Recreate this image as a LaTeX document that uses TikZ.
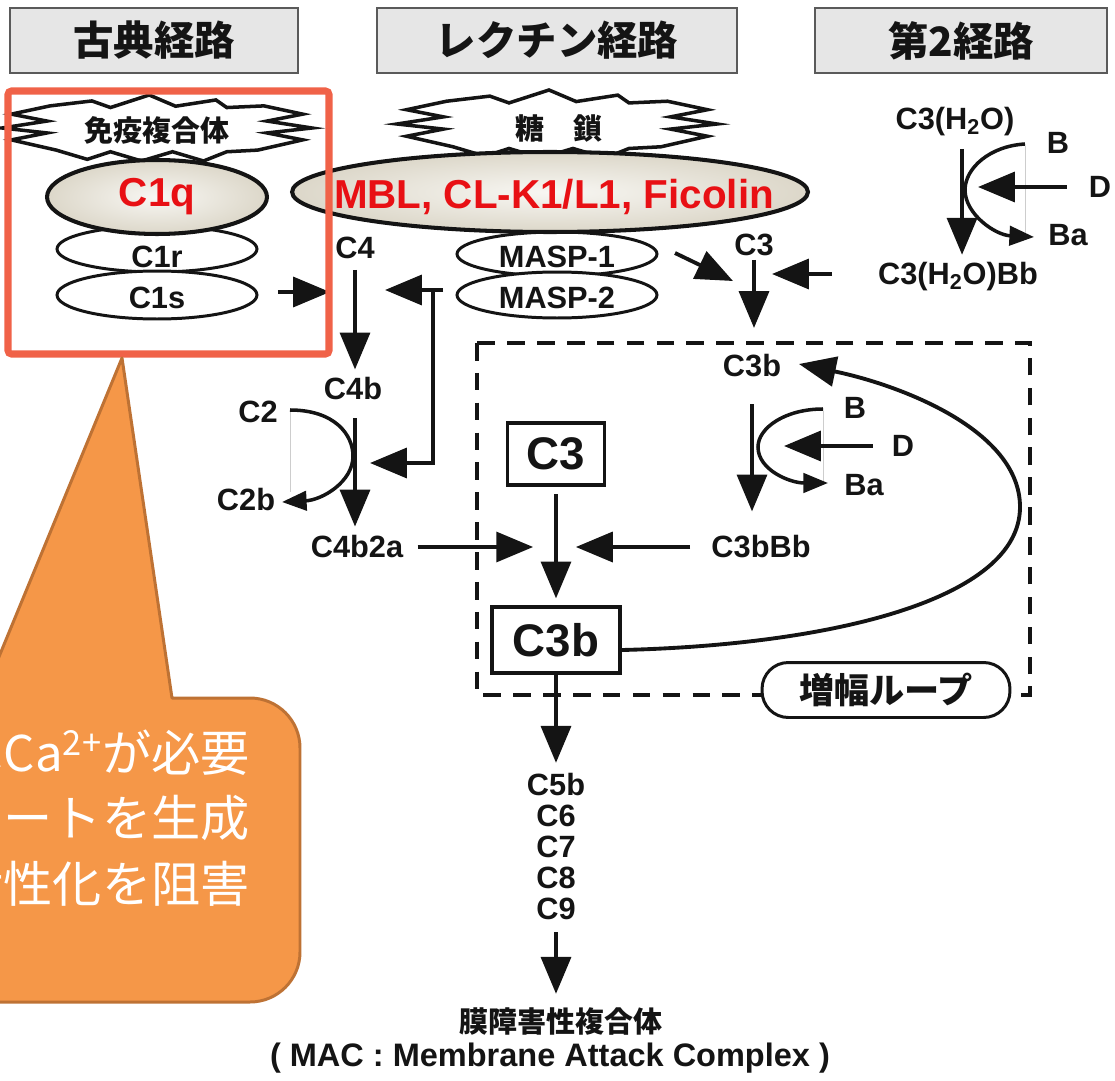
\documentclass[tikz,border=0pt]{standalone}
\usepackage{fontspec}
\setmainfont{Liberation Sans}
\newfontfamily\jp{Noto Sans CJK JP}
\usetikzlibrary{arrows.meta,calc,shapes.geometric,positioning}
\definecolor{ink}{RGB}{20,20,20}
\definecolor{hdr}{RGB}{230,230,230}
\definecolor{hdrline}{RGB}{90,90,90}
\definecolor{hot}{RGB}{232,16,20}
\definecolor{frame}{RGB}{240,98,72}
\definecolor{note}{RGB}{245,151,72}
\definecolor{noteline}{RGB}{190,114,52}
\definecolor{beigein}{RGB}{248,247,243}
\definecolor{beigeout}{RGB}{220,215,201}
\definecolor{ghost}{RGB}{205,205,205}
% Zackenwolke um einen Mittelpunkt, halbe Breite, halbe Hoehe
\newcommand{\spiky}[3]{%
  \begin{scope}[shift={#1}, xscale=#2, yscale=#3]
    \draw[burst] (-0.69,-0.67) -- (-0.94,-0.42) -- (-0.71,-0.21) -- (-1,0) -- (-0.71,0.15)
      -- (-0.94,0.36) -- (-0.65,0.67) -- (-0.45,0.95) -- (-0.3,0.72) -- (-0.1,1) -- (0.1,0.72)
      -- (0.3,1) -- (0.45,0.72) -- (0.65,0.67) -- (0.94,0.36) -- (0.71,0.15) -- (1,0)
      -- (0.71,-0.21) -- (0.94,-0.42) -- (0.69,-0.67) -- (0.45,-0.62) -- (0.38,-0.85)
      -- (0.12,-0.66) -- (-0.05,-1) -- (-0.3,-0.62) -- (-0.42,-0.82) -- cycle;
  \end{scope}}
\tikzset{
  every picture/.style={ink, line join=miter, >={Triangle[length=21pt,width=17pt]}},
  % Beschriftungen
  lbl/.style={inner sep=0pt, font=\fontsize{17.5}{18}\selectfont\bfseries},
  jplbl/.style={inner sep=0pt, font=\jp\fontsize{16.5}{18}\selectfont\bfseries},
  hdrbox/.style={draw=hdrline, fill=hdr, line width=1.2pt, minimum height=1.3cm,
    font=\jp\fontsize{23}{24}\selectfont\bfseries},
  % Formen
  disk/.style={ellipse, draw, fill=white, line width=1.7pt, inner sep=0pt},
  bigdisk/.style={ellipse, draw, line width=2.3pt, inner sep=0pt, shade,
    inner color=beigein, outer color=beigeout},
  burst/.style={draw, fill=white, line width=2pt},
  cbox/.style={draw, fill=white, line width=1.8pt, inner sep=0pt,
    font=\fontsize{26}{28}\selectfont\bfseries},
  pill/.style={draw, fill=white, line width=1.7pt, rounded corners=15pt,
    minimum width=4.96cm, minimum height=1.1cm, font=\jp\fontsize{20}{22}\selectfont\bfseries},
  loopframe/.style={line width=1.8pt, dash pattern=on 10pt off 7pt},
  % Pfeile
  arr/.style={->, line width=2.2pt},
  sarr/.style={line width=2pt, -{Triangle[length=14pt,width=11pt]}},
  ghostline/.style={ghost, line width=0.4pt},
  % Sprechblase
  notebox/.style={fill=note, draw=noteline, line width=1.7pt, line join=round},
  notetxt/.style={white, inner sep=0pt, anchor=base east, font=\jp\fontsize{28}{30}\selectfont},
}

\begin{document}
\begin{tikzpicture}[x=0.02cm, y=-0.02cm]
  \useasboundingbox (0,0) rectangle (1115,1081);
  \clip (0,0) rectangle (1115,1081);
  % Kopfzeilen
  \node[hdrbox, minimum width=5.76cm] (hclass) at (154,40.5) {古典経路};
  \node[hdrbox, minimum width=7.2cm] (hlec) at (557,40.5) {レクチン経路};
  \node[hdrbox, minimum width=5.84cm] (halt) at (961,40.5) {第2経路};
  % Ausloeser
  \spiky{(157,128)}{155}{33}
  \spiky{(557,124)}{160}{34}
  \node[jplbl] (immune) at (157,130) {免疫複合体};
  \node[jplbl] (sugar) at (559,128) {糖　鎖};
  % Erkennungsmolekuele
  \node[disk, minimum width=4cm, minimum height=0.92cm] (c1r) at (157,249) {};
  \node[disk, minimum width=4cm, minimum height=0.96cm] (c1s) at (157,295) {};
  \node[bigdisk, minimum width=4.4cm, minimum height=1.48cm, text=hot,
    font=\fontsize{23}{24}\selectfont\bfseries] (c1q) at (157,197) {C1q};
  \node[lbl] (c1rtxt) at (157,257) {C1r};
  \node[lbl] (c1stxt) at (157,298) {C1s};
  \node[disk, minimum width=4cm, minimum height=0.88cm] (masp1) at (557,254) {};
  \node[disk, minimum width=4cm, minimum height=0.92cm] (masp2) at (557,295) {};
  \node[bigdisk, minimum width=10.32cm, minimum height=1.6cm] (mbl) at (550,192) {};
  \node[inner sep=0pt, text=hot, font=\fontsize{23}{24}\selectfont\bfseries] (mbltxt) at (554,197) {MBL, CL-K1/L1, Ficolin};
  \node[lbl] (masp1txt) at (557,257) {MASP-1};
  \node[lbl] (masp2txt) at (557,298) {MASP-2};
  % klassischer / Lektin-Weg
  \node[lbl] (c4) at (355,248) {C4};
  \node[lbl] (c4b) at (353,389) {C4b};
  \node[lbl] (c2) at (258,412) {C2};
  \node[lbl] (c2b) at (246,500) {C2b};
  \node[lbl] (c4b2a) at (357,547) {C4b2a};
  \coordinate (c1out) at (330,292);
  \coordinate (tj) at (433,290);
  \coordinate (tjr) at (443,290);
  \coordinate (c4in) at (385,290);
  \coordinate (tjb) at (433,463);
  \coordinate (c2in) at (370,463);
  \draw[arr, shorten <=11pt] (c1s.east |- c1out) -- (c1out);
  \draw[arr] (tjr) -- (c4in);
  \draw[arr] (tj) -- (tjb) -- (c2in);
  \draw[arr, shorten <=6pt, shorten >=4.5pt] (c4.south) -- (c4.south |- c4b.north);
  \draw[arr, shorten <=10pt, shorten >=5pt] (c4.south |- c4b.south) -- (c4.south |- c4b2a.north);
  \coordinate (c2a) at (290,410);
  \coordinate (c2t) at (282,502);
  \draw[ghostline] (290,412) -- (290,492);
  \draw[sarr] (c2a) .. controls (335,410) and (353,435) .. (353,456)
    .. controls (353,482) and (322,500) .. (c2t);
  % Lektin -> C3
  \node[lbl] (c3in) at (754,245) {C3};
  \node[lbl] (c3bin) at (752,366) {C3b};
  \coordinate (dg1) at (675,253);
  \coordinate (dg2) at (733,281);
  \coordinate (alt3) at (832,274);
  \coordinate (alt3tip) at (772,274);
  \draw[arr] (dg1) -- (dg2);
  \draw[arr] (alt3) -- (alt3tip);
  \draw[arr, shorten <=2pt, shorten >=15pt] (c3in.south) -- (c3in.south |- c3bin.north);
  % alternativer Weg
  \node[lbl] (wat) at (955,122) {C3(H\textsubscript{2}O)};
  \node[lbl] (wb) at (1058,143) {B};
  \node[lbl] (wd) at (1100,187) {D};
  \node[lbl] (wba) at (1068,235) {Ba};
  \node[lbl] (watbb) at (958,277) {C3(H\textsubscript{2}O)Bb};
  \coordinate (wbs) at (1025,144);
  \coordinate (wbat) at (1034,237);
  \coordinate (wdtip) at (978,187);
  \draw[ghostline] (1025,146) -- (1025,235);
  \draw[arr, shorten <=7pt, shorten >=4.3pt] ([xshift=4pt]wat.south) -- ([xshift=4pt]wat.south |- watbb.north);
  \draw[sarr] (wbs) .. controls (990,146) and (965,168) .. (965,190)
    .. controls (965,214) and (995,235) .. (wbat);
  \draw[arr, shorten <=12.5pt] (wd.west) -- (wdtip);
  % Verstaerkungsschleife
  \draw[loopframe] (477,343) rectangle (1030,695);
  \node[lbl] (c3bbb) at (761,547) {C3bBb};
  \node[lbl] (fb) at (855,408) {B};
  \node[lbl] (fd) at (903,446) {D};
  \node[lbl] (fba) at (864,485) {Ba};
  \coordinate (fbs) at (823,409);
  \coordinate (fbat) at (828,483);
  \coordinate (fdtip) at (784,446);
  \draw[ghostline] (823,411) -- (823,481);
  \draw[arr, shorten <=15pt, shorten >=13.6pt] (c3bin.south) -- (c3bin.south |- c3bbb.north);
  \draw[sarr] (fbs) .. controls (785,409) and (758,428) .. (758,447)
    .. controls (758,470) and (790,483) .. (fbat);
  \draw[arr, shorten <=10.8pt] (fd.west) -- (fdtip);
  \node[cbox, minimum width=1.94cm, minimum height=1.24cm] (c3box) at (556,454) {C3};
  \node[cbox, minimum width=2.56cm, minimum height=1.32cm] (c3bbox) at (556,640) {C3b};
  \coordinate (jn) at (556,547);
  \draw[arr, shorten <=4.5pt, shorten >=4pt] (c3box.south) -- (c3bbox.north);
  \draw[arr, shorten <=8pt, shorten >=13pt] (c4b2a.east) -- (jn);
  \draw[arr, shorten <=12pt, shorten >=11.3pt] (c3bbb.west) -- (jn);
  \coordinate (loopend) at (799,364);
  \draw[arr] ([yshift=-5.7pt]c3bbox.east) .. controls (830,645) and (1020,600) .. (1020,507)
    .. controls (1020,430) and (900,385) .. (loopend);
  \node[pill] (amp) at (886,690) {増幅ループ};
  % terminale Komponenten
  \foreach \t [count=\i] in {C5b,C6,C7,C8,C9}
    \node[lbl] (m\i) at (556,{754+31*\i}) {\t};
  \node[jplbl] (macjp) at (561,1022) {膜障害性複合体};
  \node[inner sep=0pt, font=\fontsize{18.5}{20}\selectfont\bfseries] (macen) at (550,1058) {( MAC : Membrane Attack Complex )};
  \draw[arr, shorten >=6pt] (c3bbox.south) -- (c3bbox.south |- m1.north);
  \draw[arr, shorten <=6.8pt, shorten >=8pt] (m5.south) -- (m5.south |- macjp.north);
  % Rahmen und Sprechblase
  \draw[frame, line width=4pt, rounded corners=2pt] (8,91) rectangle (329,354);
  \draw[notebox] (122,358) -- (172,698) -- (250,698) .. controls (277.6,698) and (300,720.4) .. (300,748)
    -- (300,952) .. controls (300,979.6) and (277.6,1002) .. (250,1002) -- (-60,1002) -- (-60,800) -- cycle;
  \node[notetxt] (n1) at (250,771) {にはCa\textsuperscript{2+}が必要};
  \node[notetxt] (n2) at (250,836) {キレートを生成};
  \node[notetxt] (n3) at (250,902) {活性化を阻害};
\end{tikzpicture}
\end{document}
